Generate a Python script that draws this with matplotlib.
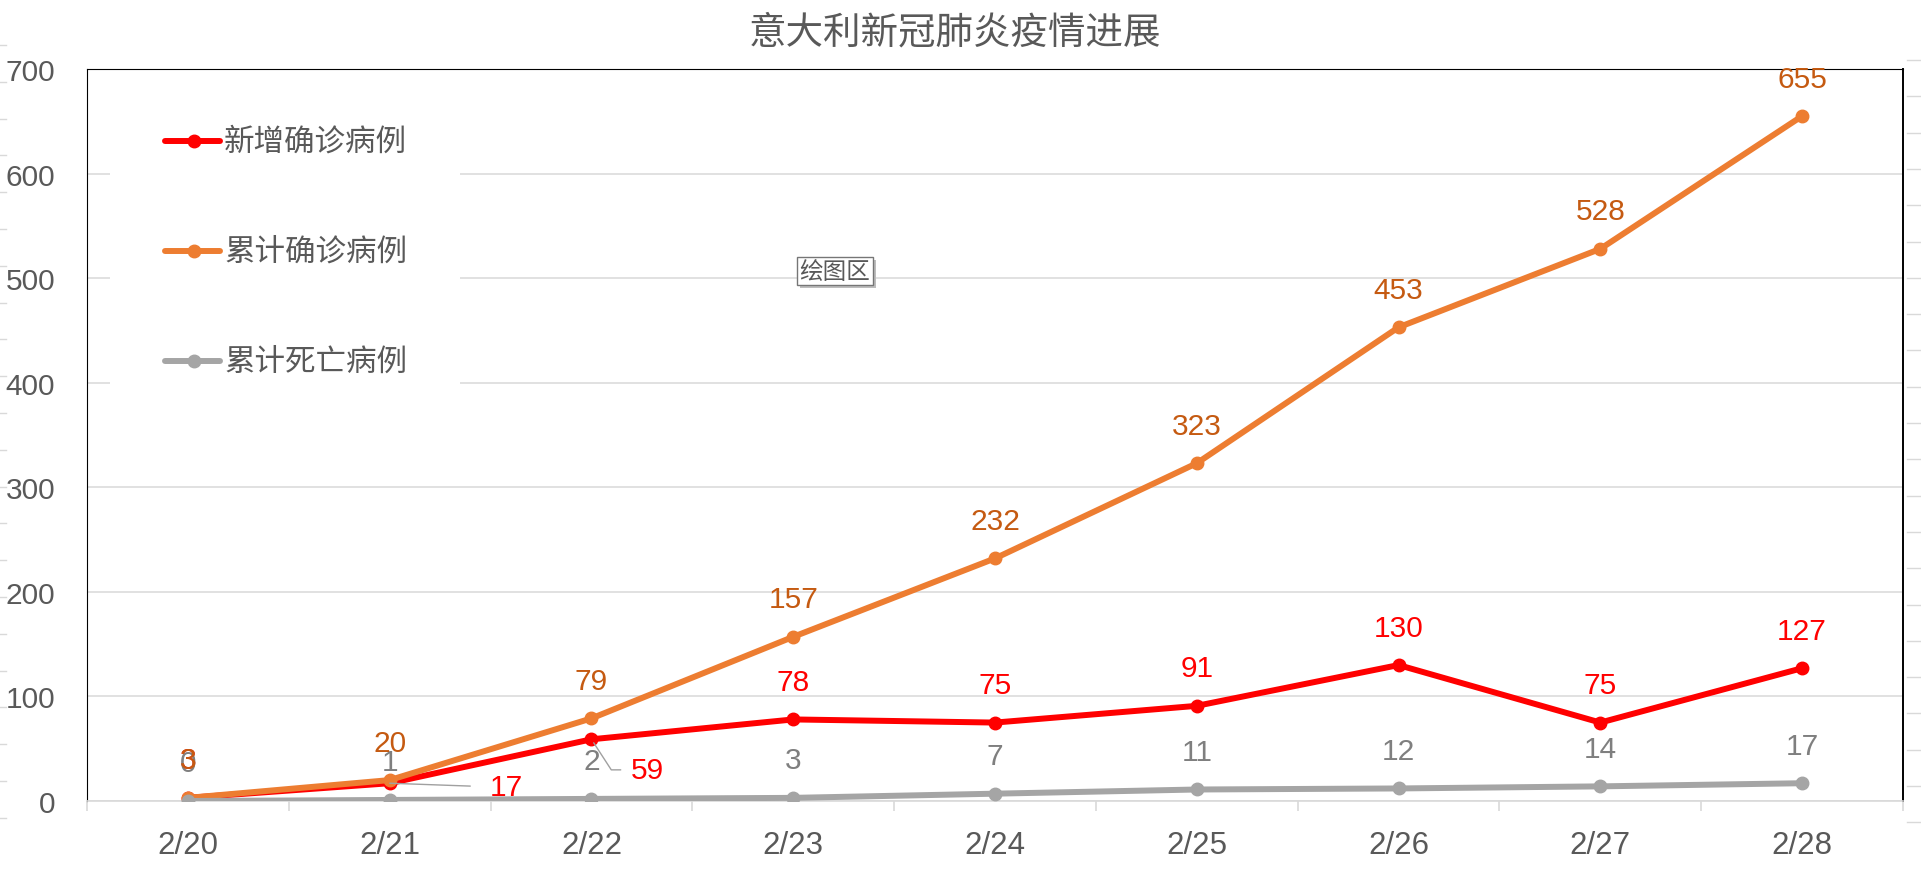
import numpy as np
import matplotlib
matplotlib.use("Agg")
import matplotlib.pyplot as plt
from matplotlib.lines import Line2D
from matplotlib.patches import Rectangle

# ---- data ----
dates = ["2/20", "2/21", "2/22", "2/23", "2/24", "2/25", "2/26", "2/27", "2/28"]
new_cases = [3, 17, 59, 78, 75, 91, 130, 75, 127]
total_cases = [3, 20, 79, 157, 232, 323, 453, 528, 655]
total_deaths = [0, 1, 2, 3, 7, 11, 12, 14, 17]
series_names = ["新增确诊病例", "累计确诊病例", "累计死亡病例"]
y_ticks = [0, 100, 200, 300, 400, 500, 600, 700]
title = "意大利新冠肺炎疫情进展"

# ---- styles ----
RED, ORANGE, GRAY = "#ff0000", "#ed7d31", "#a5a5a5"
RED_T, ORANGE_T, GRAY_T = "#ff0000", "#c55a11", "#7f7f7f"
TXT = "#595959"
GRID = "#d9d9d9"
NUMFONT = "Liberation Sans"
CJK = ["Noto Sans CJK SC", "DejaVu Sans"]

W, H = 1921, 870
fig = plt.figure(figsize=(W / 100, H / 100), dpi=100)
fig.patch.set_facecolor("white")

# decorative edge marks (artifact of the original screenshot)
deco = fig.add_axes([0, 0, 1, 1], zorder=-5)
deco.set_xlim(0, W); deco.set_ylim(H, 0); deco.axis("off")
for yy in np.arange(46, 830, 36.8):
    deco.plot([0, 6], [yy, yy], color=GRID, lw=1)
for yy in np.arange(61, 840, 36.3):
    deco.plot([1907, 1921], [yy, yy], color=GRID, lw=1)

ax = fig.add_axes([87 / W, (H - 802) / H, (1903 - 87) / W, (802 - 70) / H])
x = np.arange(len(dates))

ax.set_xlim(-0.5, len(dates) - 0.5)
ax.set_ylim(0, 700)
ax.set_yticks(y_ticks)
ax.set_yticklabels([str(v) for v in y_ticks], fontfamily=NUMFONT, fontsize=21.5, color=TXT)
ax.tick_params(axis="y", length=0, pad=23)
ax.set_xticks(x)
ax.set_xticklabels(dates, fontfamily=NUMFONT, fontsize=22.5, color=TXT)
ax.set_xticks(np.arange(-0.5, len(dates), 1.0), minor=True)
ax.tick_params(axis="x", which="major", length=0, pad=21)
ax.tick_params(axis="x", which="minor", length=7.5, color=GRID, width=1.2, direction="out")

ax.grid(axis="y", color=GRID, lw=1.1)
ax.set_axisbelow(True)
for s in ["left", "top"]:
    ax.spines[s].set_color("black"); ax.spines[s].set_linewidth(0.8)
ax.spines["right"].set_color("black"); ax.spines["right"].set_linewidth(1.4)
ax.spines["bottom"].set_color(GRID); ax.spines["bottom"].set_linewidth(1.2)

lw, ms = 4.3, 9
ax.plot(x, new_cases, color=RED, lw=lw, marker="o", ms=ms, zorder=3)
ax.plot(x, total_cases, color=ORANGE, lw=lw, marker="o", ms=ms, zorder=4)
ax.plot(x, total_deaths, color=GRAY, lw=lw, marker="o", ms=ms, zorder=5)

# data labels
def lab(xi, yi, txt, color, dx=0, dy=27, **kw):
    ax.annotate(txt, (xi, yi), xytext=(dx, dy), textcoords="offset points",
                ha="center", va="center", fontfamily=NUMFONT, fontsize=21.5,
                color=color, zorder=6, **kw)

for i, v in enumerate(new_cases):
    if i == 1:
        lab(i, v, str(v), RED_T, dx=84, dy=-3,
            arrowprops=dict(arrowstyle="-", color="#a0a0a0", lw=1.0, shrinkA=12, shrinkB=0))
    elif i == 2:
        lab(i, v, str(v), RED_T, dx=40, dy=-22,
            arrowprops=dict(arrowstyle="-", color="#a0a0a0", lw=1.0, shrinkA=5, shrinkB=3,
                            connectionstyle="angle,angleA=0,angleB=-57,rad=0"))
    else:
        lab(i, v, str(v), RED_T)
for i, v in enumerate(total_deaths):
    lab(i, v, str(v), GRAY_T)
for i, v in enumerate(total_cases):
    lab(i, v, str(v), ORANGE_T)

# legend (manual, with white background covering the gridlines)
ax.add_patch(Rectangle((23 / 1816, 0.53), (460 - 110) / 1816, 0.47 - 0.002,
                       transform=ax.transAxes, facecolor="white", edgecolor="none", zorder=1))
leg_y = [0.9016, 0.7514, 0.6011]
for name, col, yy in zip(series_names, [RED, ORANGE, GRAY], leg_y):
    ax.add_line(Line2D([0.0430, 0.0732], [yy, yy], transform=ax.transAxes, color=col,
                       lw=lw, solid_capstyle="round", zorder=2))
    ax.add_line(Line2D([0.0587], [yy], transform=ax.transAxes, color=col, marker="o",
                       ms=ms, zorder=2))
    ax.text(0.0755, yy, name, transform=ax.transAxes, ha="left", va="center",
            fontfamily=CJK, fontsize=22, color=TXT, zorder=2)

# "绘图区" tooltip with shadow
ax.annotate("绘图区", (0.4119, 0.724), xycoords="axes fraction", xytext=(2.2, -2.2),
            textcoords="offset points", ha="center", va="center", fontfamily=CJK,
            fontsize=17, color="#bdbdbd",
            bbox=dict(boxstyle="square,pad=0.12", fc="#bdbdbd", ec="none"), zorder=7)
ax.text(0.4119, 0.724, "绘图区", transform=ax.transAxes, ha="center", va="center",
        fontfamily=CJK, fontsize=17, color=TXT,
        bbox=dict(boxstyle="square,pad=0.12", fc="white", ec="#767676", lw=1.0), zorder=8)

fig.text(955 / W, 1 - 33 / H, title, ha="center", va="center", fontfamily=CJK,
         fontsize=27, color=TXT)

fig.savefig("out.png", dpi=100, facecolor="white")
